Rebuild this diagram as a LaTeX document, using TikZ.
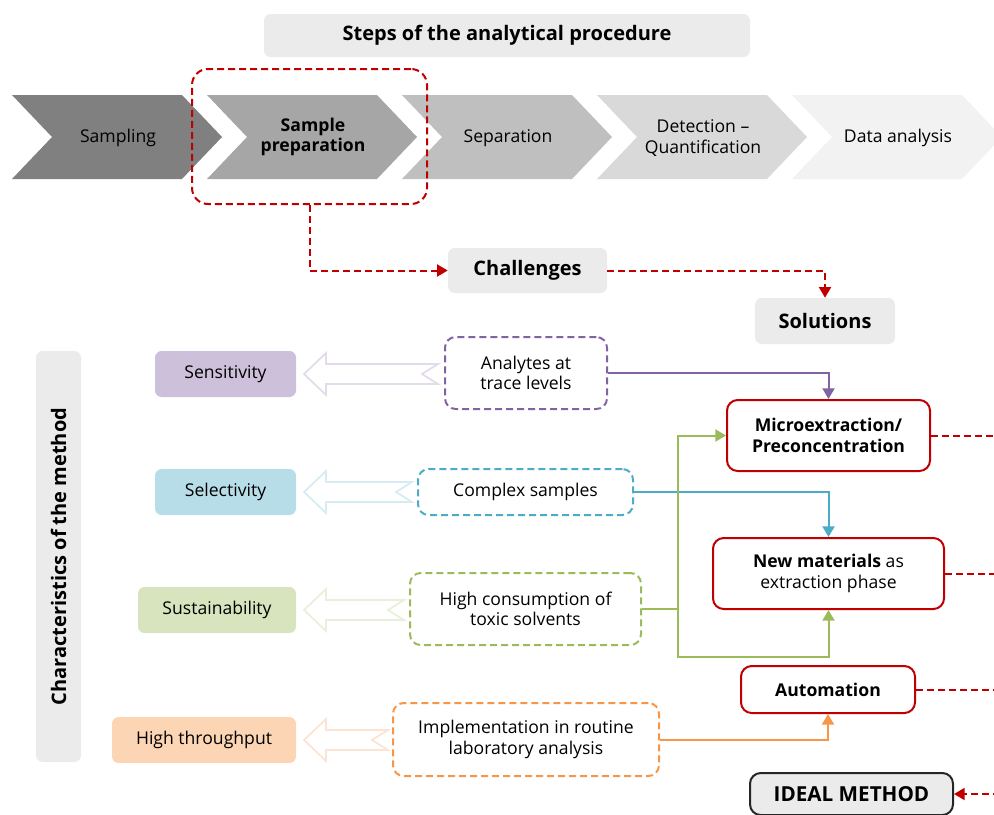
\documentclass[tikz,border=0pt]{standalone}
\usepackage{fontspec}
\setmainfont{Open Sans}
\usetikzlibrary{arrows.meta}
\definecolor{dred}{HTML}{C00000}
\definecolor{lgray}{HTML}{EBEBEB}
\definecolor{cpur}{HTML}{8064A2}
\definecolor{cblu}{HTML}{4BACC6}
\definecolor{cgrn}{HTML}{9BBB59}
\definecolor{corg}{HTML}{F79646}
\definecolor{fpur}{HTML}{CCC0DA}
\definecolor{fblu}{HTML}{B7DEE8}
\definecolor{fgrn}{HTML}{D7E4BD}
\definecolor{forg}{HTML}{FCD5B5}
\definecolor{apur}{HTML}{E2DCEA}
\definecolor{ablu}{HTML}{D6ECF2}
\definecolor{agrn}{HTML}{E8EFDA}
\definecolor{aorg}{HTML}{FCE4D4}
\tikzset{
  base/.style={inner sep=0pt, align=center, font=\fontsize{13.2}{15.5}\selectfont},
  boldtxt/.style={font=\fontsize{13.2}{15.5}\selectfont\bfseries},
  graybox/.style={base, fill=lgray, rounded corners=5pt, font=\fontsize{15}{18}\selectfont\bfseries},
  charbox/.style={base, rounded corners=5pt, minimum height=34.5pt},
  chalbox/.style={base, draw=#1, fill=white, line width=1.5pt, dash pattern=on 5.25pt off 3pt, rounded corners=8pt},
  solbox/.style={base, draw=dred, fill=white, line width=1.5pt, rounded corners=8pt},
  conn/.style={draw=#1, line width=1.5pt, -{Triangle[length=8pt,width=9pt]}},
  reddash/.style={draw=dred, line width=1.5pt, dash pattern=on 5.25pt off 3pt},
  redarrow/.style={reddash, -{Triangle[length=8pt,width=9pt]}},
  hollow/.style={draw=#1, fill=white, line width=1.3pt, line join=miter},
}
\newcommand{\chev}[2]{\fill[#2] (#1,95) -- ++(170,0) -- ++(40,42) -- ++(-40,42) -- ++(-170,0) -- ++(40,-42) -- cycle;}
\newcommand{\hollowarr}[4]{\draw[hollow=#4] (#1,#3) -- (#1+22,#3-21) -- (#1+22,#3-10) -- (#2,#3-10) -- (#2-16,#3) -- (#2,#3+10) -- (#1+22,#3+10) -- (#1+22,#3+21) -- cycle;}
\begin{document}
\begin{tikzpicture}[x=0.75pt,y=-0.75pt]
\useasboundingbox (0,0) rectangle (994,814);
\clip (0,0) rectangle (994,814);
% title
\node[graybox, minimum width=364.5pt, minimum height=32.25pt] (title) at (507,35.5) {Steps of the analytical procedure};
% chevrons
\chev{12}{black!50}
\chev{207}{black!35}
\chev{402}{black!25}
\chev{597}{black!15}
\chev{792}{black!5}
\node[base] (s1) at (118,138) {Sampling};
\node[base, boldtxt] (s2) at (313,137) {Sample\\preparation};
\node[base] (s3) at (508,138) {Separation};
\node[base] (s4) at (703,138) {Detection –\\Quantification};
\node[base] (s5) at (898,138) {Data analysis};
% red dashed highlight
\node[reddash, rounded corners=12pt, minimum width=176.25pt, minimum height=101.25pt, inner sep=0pt] (prep) at (309.5,136.5) {};
% challenges / solutions
\node[graybox, minimum width=119.25pt, minimum height=33.75pt] (chal) at (527.5,270.5) {Challenges};
\node[graybox, minimum width=105pt, minimum height=34.5pt] (sol) at (825,321) {Solutions};
\draw[redarrow] (prep.south) |- (chal.west);
\draw[redarrow] (chal.east) -| (sol.north);
% characteristics
\node[graybox, rotate=90, minimum width=308.25pt, minimum height=33.75pt] (charm) at (58.5,556.5) {Characteristics of the method};
\node[charbox, fill=fpur, minimum width=105.75pt] (sens) at (225.5,374) {Sensitivity};
\node[charbox, fill=fblu, minimum width=105.75pt] (sel) at (225.5,492) {Selectivity};
\node[charbox, fill=fgrn, minimum width=118.5pt] (sus) at (217,610) {Sustainability};
\node[charbox, fill=forg, minimum width=138pt] (ht) at (204,740) {High throughput};
% hollow arrows
\hollowarr{304}{438}{374}{apur}
\hollowarr{304}{412}{492}{ablu}
\hollowarr{304}{404}{610}{agrn}
\hollowarr{304}{388}{740}{aorg}
% challenge boxes
\node[chalbox=cpur, minimum width=121.5pt, minimum height=54pt] (ana) at (526,373) {Analytes at\\trace levels};
\node[chalbox=cblu, minimum width=161.25pt, minimum height=34.5pt] (cpx) at (525.5,492) {Complex samples};
\node[chalbox=cgrn, minimum width=173.25pt, minimum height=54pt] (cons) at (525.5,609) {High consumption of\\toxic solvents};
\node[chalbox=corg, minimum width=199.5pt, minimum height=54.75pt] (impl) at (526,739.5) {Implementation in routine\\laboratory analysis};
% solution boxes
\node[solbox, boldtxt, minimum width=152.25pt, minimum height=53.25pt] (micro) at (828.5,435.5) {Microextraction/\\Preconcentration};
\node[solbox, minimum width=173.25pt, minimum height=53.25pt] (newm) at (828.5,573.5) {\textbf{New materials} as\\extraction phase};
\node[solbox, boldtxt, minimum width=130.5pt, minimum height=35.25pt] (auto) at (828,689.5) {Automation};
\node[base, draw=black!85, fill=lgray, line width=1.5pt, rounded corners=8pt, font=\fontsize{15.5}{18}\selectfont\bfseries, minimum width=152.25pt, minimum height=31.5pt] (ideal) at (851.5,794) {IDEAL METHOD};
% coloured connectors
\draw[conn=cpur] (ana.east) -| (micro.north);
\draw[conn=cblu] (cpx.east) -| (newm.north);
\coordinate (gj) at (678,609);
\coordinate (gb) at (678,657);
\draw[draw=cgrn, line width=1.5pt] (cons.east) -- (gj);
\draw[conn=cgrn] (gj) |- (micro.west);
\draw[conn=cgrn] (gj) -- (gb) -| (newm.south);
\draw[conn=corg] (impl.east) -| (auto.south);
% red dashed to the right edge
\coordinate (edge) at (1000,0);
\draw[reddash] (micro.east) -- (micro.east -| edge);
\draw[reddash] (newm.east) -- (newm.east -| edge);
\draw[reddash] (auto.east) -- (auto.east -| edge);
\draw[redarrow] (ideal.east -| edge) -- (ideal.east);
\end{tikzpicture}
\end{document}
